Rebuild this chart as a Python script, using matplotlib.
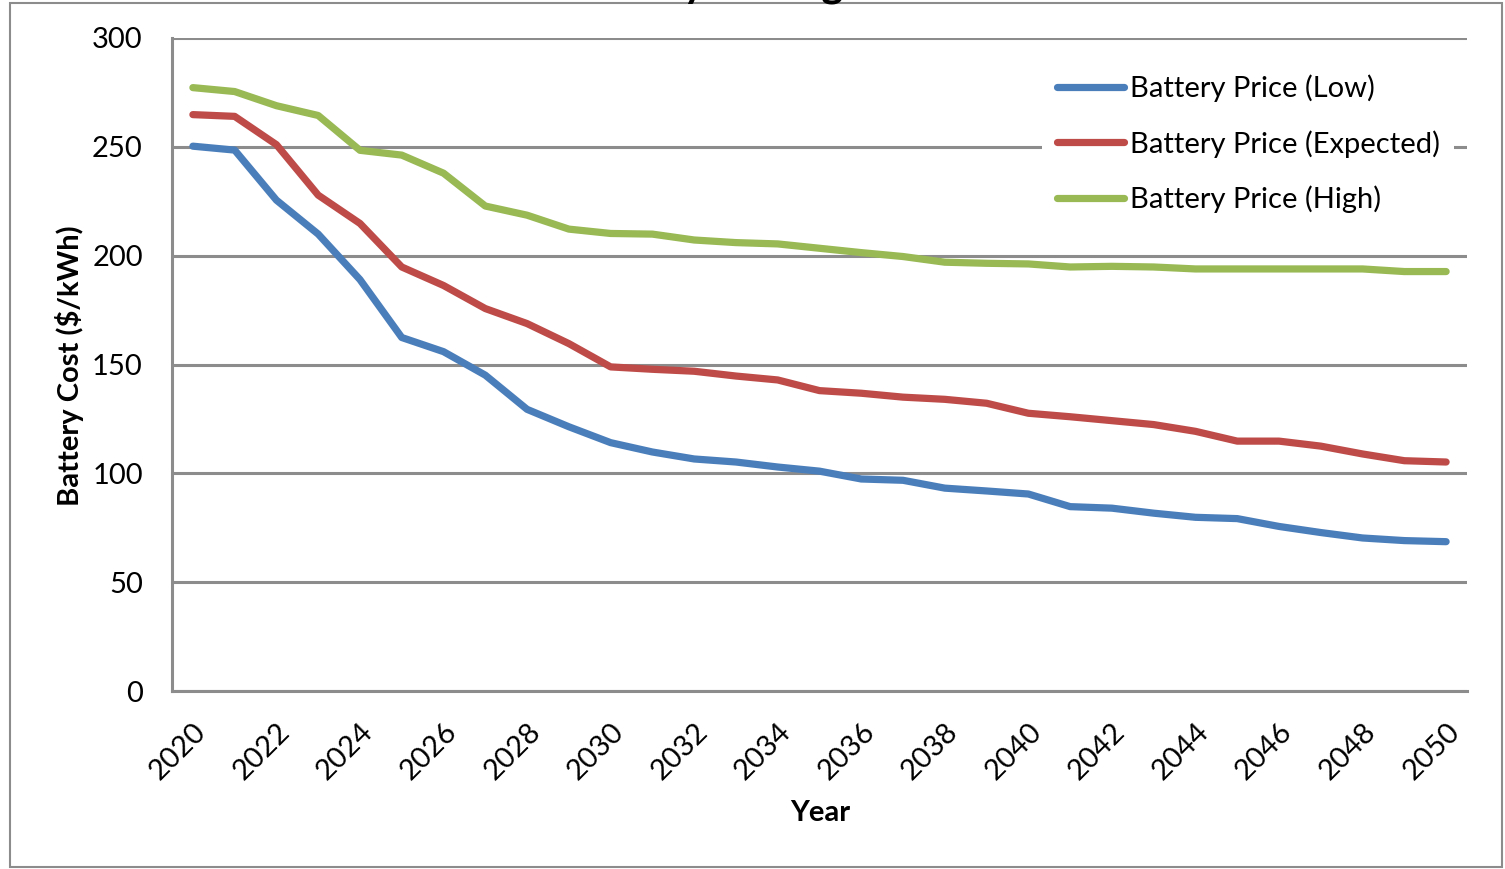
import matplotlib
matplotlib.use("Agg")
import matplotlib.pyplot as plt
from matplotlib.patches import Rectangle

years = list(range(2020, 2051))

price_low = [250.3, 248.5, 225.5, 209.9, 189.0, 162.4, 155.9, 145.1, 129.4, 121.4,
             114.1, 109.8, 106.6, 105.2, 102.9, 101.0, 97.4, 96.8, 93.2, 91.9,
             90.5, 84.7, 84.0, 81.7, 79.8, 79.2, 75.6, 72.8, 70.3, 69.1, 68.6]
price_expected = [264.8, 264.0, 251.0, 227.8, 214.8, 194.8, 186.3, 175.7, 168.8, 159.6,
                  148.9, 147.8, 146.9, 144.7, 142.9, 138.0, 136.8, 135.0, 134.0, 132.2,
                  127.6, 126.0, 124.2, 122.4, 119.3, 114.8, 114.8, 112.5, 108.9, 105.8, 105.2]
price_high = [277.2, 275.4, 268.9, 264.4, 248.4, 246.2, 237.9, 222.8, 218.6, 212.2,
              210.2, 209.9, 207.2, 206.0, 205.4, 203.4, 201.4, 199.6, 197.0, 196.5,
              196.2, 194.8, 195.1, 194.8, 193.9, 193.9, 193.9, 193.9, 193.9, 192.7, 192.7]

series = [
    ("Battery Price (Low)", price_low, "#4A7EBB"),
    ("Battery Price (Expected)", price_expected, "#BE4B48"),
    ("Battery Price (High)", price_high, "#98B954"),
]

plt.rcParams['font.family'] = ['Lato', 'DejaVu Sans']

W, H = 1505, 869
fig = plt.figure(figsize=(W / 100, H / 100), dpi=100)
fig.patch.set_facecolor("white")

# outer chart border
fig.patches.append(Rectangle((10 / W, 1 - 867 / H), 1492 / W, 864 / H,
                             transform=fig.transFigure, fill=False,
                             edgecolor="#8C8C8C", linewidth=1.5))

ax = fig.add_axes([172 / W, 1 - 691 / H, 1295 / W, 653 / H])

for label, vals, color in series:
    ax.plot(years, vals, color=color, linewidth=5.2, label=label,
            solid_capstyle="round", solid_joinstyle="round", zorder=3)

ax.set_xlim(2019.5, 2050.5)
ax.set_ylim(0, 300)
ax.set_xticks(range(2020, 2051, 2))
ax.set_yticks(range(0, 301, 50))
ax.yaxis.grid(True, color="#8C8C8C", linewidth=2.2)
ax.set_axisbelow(True)

for side in ("top", "right"):
    ax.spines[side].set_visible(False)
for side in ("left", "bottom"):
    ax.spines[side].set_color("#8C8C8C")
    ax.spines[side].set_linewidth(2.2)
ax.tick_params(length=0, labelsize=21, colors="#000000")
ax.tick_params(axis="y", pad=21)
ax.tick_params(axis="x", pad=20)
plt.setp(ax.get_xticklabels(), rotation=45, ha="right", rotation_mode="anchor")

ax.set_xlabel("Year", fontsize=21, fontweight="bold")
ax.set_ylabel("Battery Cost ($/kWh)", fontsize=21, fontweight="bold")
ax.xaxis.set_label_coords((820 - 172) / 1295, -(813 - 691) / 653)
ax.yaxis.set_label_coords((70 - 172) / 1295, (691 - 366) / 653)
ax.xaxis.label.set_va("center")
ax.yaxis.label.set_va("center")

leg = ax.legend(loc="upper left", bbox_to_anchor=(1042 / W, 1 - 60 / H),
                bbox_transform=fig.transFigure, fontsize=21, frameon=True,
                fancybox=False, edgecolor="none", facecolor="white", framealpha=1,
                handlelength=2.3, handletextpad=0.2, labelspacing=0.95,
                borderaxespad=0, borderpad=0.5)
for line in leg.get_lines():
    line.set_linewidth(5.2)
    line.set_solid_capstyle("round")

# chart title, mostly above the top edge
fig.text(566 / W, 1 + 3 / H, "Battery Pricing", fontsize=30, fontweight="bold",
         ha="left", va="baseline")

fig.savefig("out.png", dpi=100, facecolor="white")
